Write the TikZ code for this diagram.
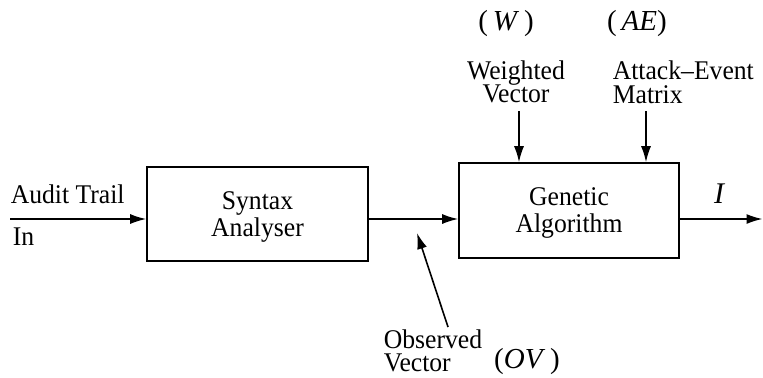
\documentclass[tikz,border=0pt]{standalone}
\usepackage{fontspec}
\setmainfont{Liberation Serif}[FakeStretch=0.95]
\newfontfamily\symfont{Liberation Serif}
\usetikzlibrary{arrows.meta}
\tikzset{>={Latex[width=5pt,length=8pt]}}
\tikzset{
  blk/.style={draw, line width=0.8pt, align=center, inner sep=0pt, text depth=0pt,
    font=\fontsize{13.5}{13.5}\selectfont},
  lbl/.style={inner sep=0pt, font=\fontsize{13.5}{11.8}\selectfont},
  sym/.style={inner sep=0pt, font=\symfont\fontsize{14.5}{14.5}\selectfont},
}

\begin{document}
\begin{tikzpicture}[x=0.5pt, y=-0.5pt, line width=0.8pt]
  \useasboundingbox (0,0) rectangle (763,377);

  \newcommand\YL{219}

  % blocks
  \node[blk, minimum width=110.5pt, minimum height=47pt] (syn) at (257.5,214) {Syntax\\Analyser};
  \node[blk, minimum width=110pt, minimum height=47.5pt] (ga) at (569,210.5) {Genetic\\Algorithm};

  % main flow
  \coordinate (src) at (10,\YL);
  \coordinate (sink) at (762.5,\YL);
  \draw[->] (src) -- (src -| syn.west);
  \draw[->] (syn.east |- src) -- (ga.west |- src);
  \draw[->] (ga.east |- src) -- (sink);

  % inputs from above
  \coordinate (wtop) at (519,111);
  \coordinate (aetop) at (646,111);
  \draw[->] (wtop) -- (wtop |- ga.north);
  \draw[->] (aetop) -- (aetop |- ga.north);

  % observed vector taken off the line
  \coordinate (obs) at (448,327);
  \coordinate (tap) at (417,233);
  \draw[->] (obs) -- (tap);

  % labels
  \node[lbl, anchor=base west] (audit) at (10,203) {Audit Trail};
  \node[lbl, anchor=base west] (in) at (12,245) {In};
  \node[lbl, align=center] (wlab) at (516,82) {Weighted\\Vector};
  \node[lbl, align=left, anchor=west] (aelab) at (612,82) {Attack--Event\\Matrix};
  \node[lbl, align=left, anchor=west] (ovlab) at (383,351) {Observed\\Vector};

  \node[sym] (wsym) at (506,24) {(\,\textit{W}\,)};
  \node[sym] (aesym) at (637,24) {(\,\textit{AE})};
  \node[sym] (ovsym) at (527,362) {(\textit{OV}\,)};
  \node[sym, font=\symfont\fontsize{15}{15}\selectfont\itshape] (out) at (719,194) {I};

\end{tikzpicture}
\end{document}
